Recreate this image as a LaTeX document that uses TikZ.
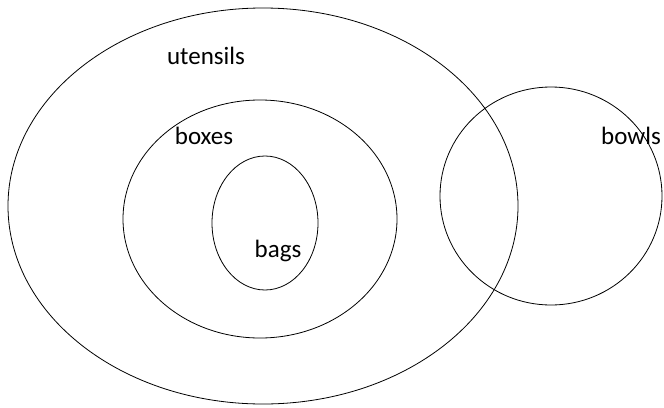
\documentclass[tikz,border=0pt]{standalone}
\usepackage{fontspec}
\setmainfont{Carlito}
\usetikzlibrary{positioning}

\begin{document}
\begin{tikzpicture}[x=1pt, y=-1pt, line width=0.8pt]
    % Stili
    \tikzset{lbl/.style={font=\fontsize{25}{30}\selectfont}}
    \useasboundingbox (0,0) rectangle (664,407);

    % Insiemi
    \draw (263,206) ellipse [x radius=255, y radius=198];
    \draw (260,219) ellipse [x radius=137, y radius=119];
    \draw (265,223) ellipse [x radius=53, y radius=67];
    \draw (551,196) ellipse [x radius=111, y radius=109];

    % Etichette
    \node [lbl] (utensils) at (206,56) {utensils};
    \node [lbl] (boxes) at (204,136) {boxes};
    \node [lbl] (bags) at (278,251) {bags};
    \node [lbl] (bowls) at (631,136) {bowls};
\end{tikzpicture}
\end{document}
